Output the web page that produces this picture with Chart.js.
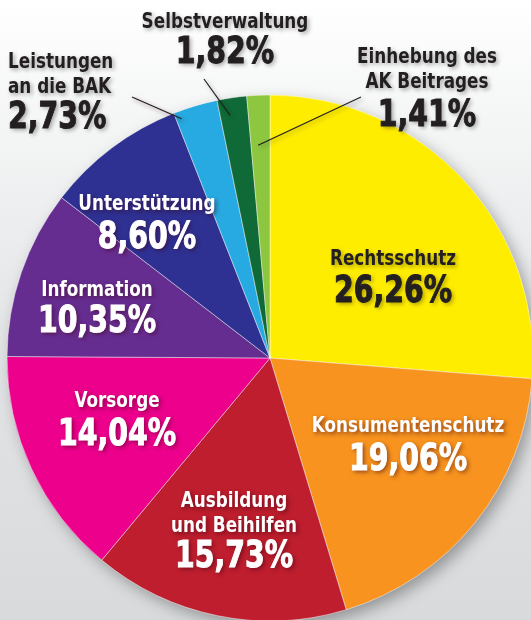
<!DOCTYPE html>
<html>
<head>
<meta charset="utf-8">
<script src="https://cdn.jsdelivr.net/npm/chart.js@4/dist/chart.umd.min.js"></script>
<style>
  html, body { margin:0; padding:0; width:531px; height:620px; overflow:hidden; }
  body { background: linear-gradient(to bottom, #ffffff 0%, #f3f4f4 22%, #e3e4e6 55%, #d8dadc 100%); }
  #wrap { position:absolute; left:0; top:0; width:545px; height:640px; }
</style>
</head>
<body>
<div id="wrap"><canvas id="pie"></canvas></div>
<script>
// Budgetanteile, im Uhrzeigersinn ab 12 Uhr
const CATEGORIES = [
  ["Rechtsschutz"],
  ["Konsumentenschutz"],
  ["Ausbildung", "und Beihilfen"],
  ["Vorsorge"],
  ["Information"],
  ["Unterstützung"],
  ["Leistungen", "an die BAK"],
  ["Selbstverwaltung"],
  ["Einhebung des", "AK Beitrages"],
];
const SHARES = [26.26, 19.06, 15.73, 14.04, 10.35, 8.60, 2.73, 1.82, 1.41];
const COLORS = ["#ffed00","#f7931e","#be1e2d","#ec008c","#662d91","#2e3192","#27aae1","#0f6a37","#8dc63f"];

// where the texts go (x, y of first line centre), text colour, alignment
// lead = start of leader line, t/r = where it ends inside the slice
const LABELS = [
  { x:393, y:259, gap:33, color:"#231f20", align:"center" },
  { x:408, y:426, gap:34, color:"#ffffff", align:"center" },
  { x:234, y:501, gap:31, color:"#ffffff", align:"center" },
  { x:117, y:401, gap:34, color:"#ffffff", align:"center" },
  { x:97,  y:290, gap:32, color:"#ffffff", align:"center" },
  { x:147, y:204, gap:34, color:"#ffffff", align:"center" },
  { x:8,   y:62,  gap:31, color:"#231f20", align:"left", lead:[132,97], t:0.12, r:0.97 },
  { x:225, y:22,  gap:31, color:"#231f20", align:"center", lead:[204,79], t:0.35, r:0.935 },
  { x:427, y:57,  gap:34, color:"#231f20", align:"center", lead:[361,97], t:0.37, r:0.81 },
];
const FONT = "'DejaVu Sans Condensed', 'Liberation Sans', sans-serif";

const fmt = v => v.toFixed(2).replace(".", ",") + "%";

function drawText(ctx, text, x, y, size, sx, align, bold){
  ctx.save();
  ctx.font = "bold " + size + "px " + FONT;
  const w = ctx.measureText(text).width * sx;
  let x0 = x;
  if (align === "center") x0 = x - w / 2;
  ctx.translate(x0, y);
  ctx.scale(sx, 1);
  ctx.textAlign = "left";
  ctx.fillText(text, 0, 0);
  if (bold){
    ctx.shadowColor = "transparent";
    ctx.strokeStyle = ctx.fillStyle;
    ctx.lineWidth = bold;
    ctx.strokeText(text, 0, 0);
  }
  ctx.restore();
}

const pieShadow = {
  id: "pieShadow",
  beforeDatasetsDraw(chart){
    const arc = chart.getDatasetMeta(0).data[0];
    const ctx = chart.ctx;
    ctx.save();
    ctx.shadowColor = "rgba(0,0,0,0.35)";
    ctx.shadowBlur = 16;
    ctx.shadowOffsetX = 5;
    ctx.shadowOffsetY = 6;
    ctx.fillStyle = "#999";
    ctx.beginPath();
    ctx.arc(arc.x, arc.y, arc.outerRadius - 1, 0, Math.PI * 2);
    ctx.fill();
    ctx.restore();
  }
};

const pieLabels = {
  id: "pieLabels",
  afterDatasetsDraw(chart){
    const ctx = chart.ctx;
    const arcs = chart.getDatasetMeta(0).data;
    ctx.save();
    LABELS.forEach((l, i) => {
      // leader line into the slice
      if (l.lead){
        const a = arcs[i];
        const ang = a.startAngle + (a.endAngle - a.startAngle) * l.t;
        const r = a.outerRadius * l.r;
        ctx.strokeStyle = "#231f20";
        ctx.lineWidth = 1.2;
        ctx.beginPath();
        ctx.moveTo(l.lead[0], l.lead[1]);
        ctx.lineTo(a.x + Math.cos(ang) * r, a.y + Math.sin(ang) * r);
        ctx.stroke();
      }
      ctx.textBaseline = "middle";
      ctx.fillStyle = l.color;
      ctx.shadowColor = l.color === "#ffffff" ? "rgba(60,0,20,0.55)" : "rgba(0,0,0,0.35)";
      ctx.shadowBlur = 4;
      ctx.shadowOffsetX = 2;
      ctx.shadowOffsetY = 2;
      const lines = CATEGORIES[i];
      let y = l.y;
      lines.forEach((t, k) => {
        drawText(ctx, t, l.x, y, 22, 0.85, l.align, 0);
        if (k < lines.length - 1) y += 25;
      });
      y += l.gap;
      drawText(ctx, fmt(SHARES[i]), l.x, y, 38, 0.83, l.align, 1);
    });
    ctx.restore();
  }
};

new Chart(document.getElementById("pie"), {
  type: "pie",
  data: {
    labels: CATEGORIES.map(c => c.join(" ")),
    datasets: [{
      data: SHARES,
      backgroundColor: COLORS,
      borderColor: "rgba(255,255,255,0.45)",
      borderWidth: 1,
    }]
  },
  options: {
    responsive: true,
    maintainAspectRatio: false,
    animation: false,
    radius: 263,
    layout: { padding: { left: 7, right: 12, top: 95, bottom: 19 } },
    plugins: {
      legend: { display: false },
      tooltip: { enabled: false }
    }
  },
  plugins: [pieShadow, pieLabels]
});
</script>
</body>
</html>
